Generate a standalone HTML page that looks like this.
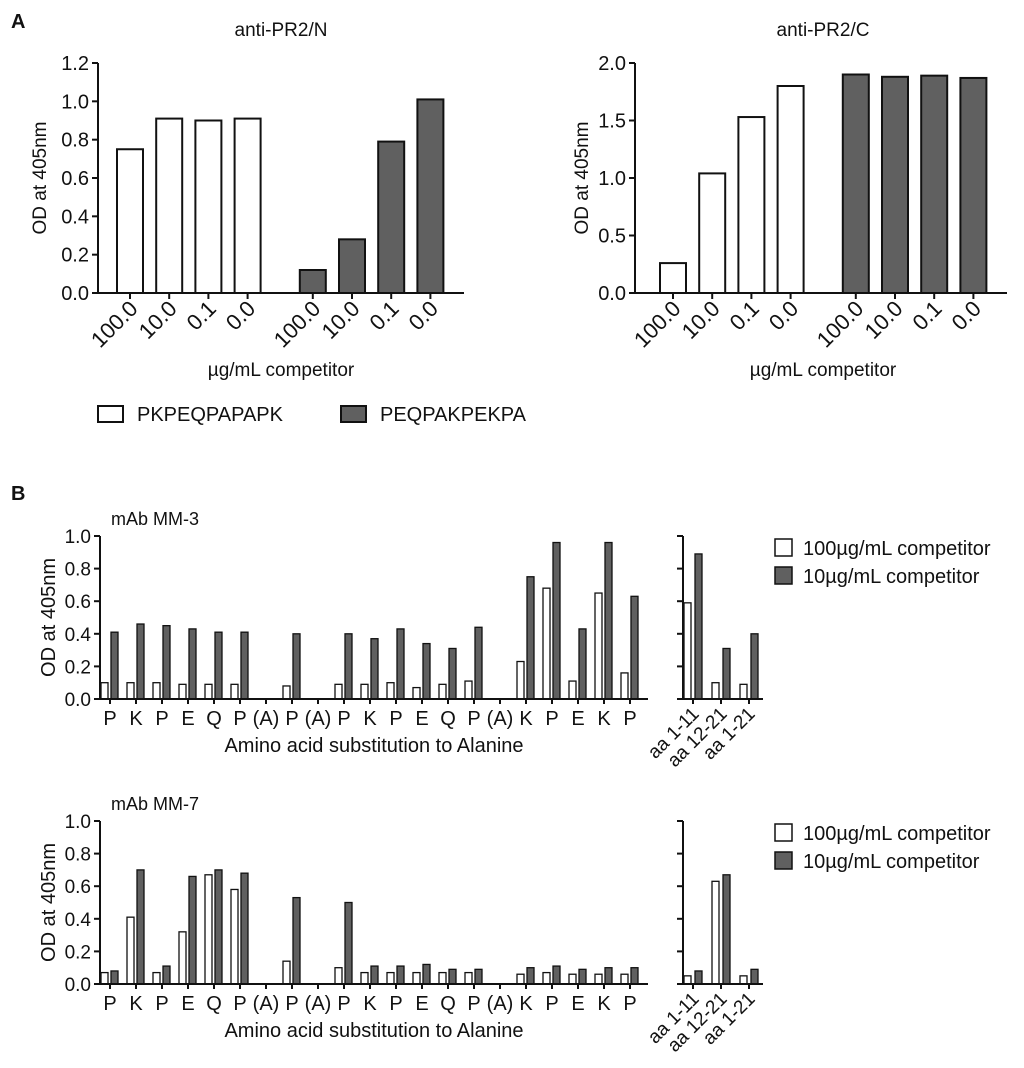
<!DOCTYPE html>
<html><head><meta charset="utf-8">
<style>
html,body{margin:0;padding:0;background:#fff;}
svg{display:block;font-family:"Liberation Sans",Arial,sans-serif;}
text{fill:#111;}
</style></head>
<body>
<svg id="fig" width="1024" height="1068" viewBox="0 0 1024 1068" xmlns="http://www.w3.org/2000/svg">
<text x="11" y="28" font-size="20" font-weight="bold">A</text>
<text x="11" y="500" font-size="20" font-weight="bold">B</text>
<g id="root"></g>
</svg>
<script>
// Panel A data
const aCats = ["100.0","10.0","0.1","0.0"];
const aNWhite = [0.75,0.91,0.90,0.91];
const aNDark = [0.12,0.28,0.79,1.01];
const aNTicks = [0.0,0.2,0.4,0.6,0.8,1.0,1.2];
const aCWhite = [0.26,1.04,1.53,1.80];
const aCDark = [1.90,1.88,1.89,1.87];
const aCTicks = [0.0,0.5,1.0,1.5,2.0];
// Panel B data
const bCats = ["P","K","P","E","Q","P","(A)","P","(A)","P","K","P","E","Q","P","(A)","K","P","E","K","P"];
const mm3White = [0.10,0.10,0.10,0.09,0.09,0.09,null,0.08,null,0.09,0.09,0.10,0.07,0.09,0.11,null,0.23,0.68,0.11,0.65,0.16];
const mm3Dark = [0.41,0.46,0.45,0.43,0.41,0.41,null,0.40,null,0.40,0.37,0.43,0.34,0.31,0.44,null,0.75,0.96,0.43,0.96,0.63];
const mm7White = [0.07,0.41,0.07,0.32,0.67,0.58,null,0.14,null,0.10,0.07,0.07,0.07,0.07,0.07,null,0.06,0.07,0.06,0.06,0.06];
const mm7Dark = [0.08,0.70,0.11,0.66,0.70,0.68,null,0.53,null,0.50,0.11,0.11,0.12,0.09,0.09,null,0.10,0.11,0.09,0.10,0.10];
const segCats = ["aa 1-11","aa 12-21","aa 1-21"];
const mm3SegWhite = [0.59,0.10,0.09];
const mm3SegDark = [0.89,0.31,0.40];
const mm7SegWhite = [0.05,0.63,0.05];
const mm7SegDark = [0.08,0.67,0.09];
const bTicks = [0.0,0.2,0.4,0.6,0.8,1.0];

const NS="http://www.w3.org/2000/svg";
const root=document.getElementById('root');
function mk(tag,attrs,parent,txt){
  const e=document.createElementNS(NS,tag);
  for(const k in attrs) e.setAttribute(k,attrs[k]);
  if(txt!==undefined) e.textContent=txt;
  (parent||root).appendChild(e);
  return e;
}
function line(x1,y1,x2,y2,name,w){
  const l=mk('line',{x1,y1,x2,y2,stroke:'#111','stroke-width':w||2});
  
  
  return l;
}
function yScale(y0,y1,vmax){return v=>y0-(v/vmax)*(y0-y1);}

// ---- Panel A chart ----
function panelA(o){
  const g=mk('g',{});
  
  
  const ys=yScale(o.y0,o.y1,o.vmax);
  const t=mk('text',{x:o.titleX,y:36,'font-size':19,'text-anchor':'middle'},g,o.title);
  
  
  line(o.ax,o.y0+1,o.ax,o.y1,'y-axis');
  line(o.ax-1,o.y0,o.xEnd,o.y0,'x-axis');
  o.ticks.forEach(v=>{
    const y=ys(v);
    line(o.ax-6,y,o.ax,y,'y-tick');
    const tl=mk('text',{x:o.ax-9,y:y+7,'font-size':20,'text-anchor':'end'},g,v.toFixed(1));
    
    
  });
  const series=[o.white,o.dark];
  series.forEach((vals,s)=>{
    vals.forEach((v,i)=>{
      const cx=o.x0+(s*aCats.length+i)*o.step+(s?o.gap:0);
      const r=mk('rect',{x:cx-13,y:ys(v),width:26,height:o.y0-ys(v),fill:s?'#606060':'#fff',stroke:'#111','stroke-width':2},g);
      
      
      line(cx,o.y0,cx,o.y0+6,'x-tick');
      const tl=mk('text',{x:0,y:0,'font-size':22,'text-anchor':'end',transform:`translate(${cx+9},${o.y0+17}) rotate(-45)`},g,aCats[i]);
      
      
    });
  });
  const yt=mk('text',{x:0,y:0,'font-size':19,'text-anchor':'middle',transform:`translate(${o.ylabX},${(o.y0+o.y1)/2}) rotate(-90)`},g,'OD at 405nm');
  
  
  const xt=mk('text',{x:o.titleX,y:376,'font-size':19,'text-anchor':'middle'},g,'\u00b5g/mL competitor');
  
  
}
panelA({name:'chart-anti-pr2-n',title:'anti-PR2/N',titleX:281,ax:98,xEnd:464,y0:293,y1:63,vmax:1.2,ticks:aNTicks,white:aNWhite,dark:aNDark,x0:130,step:39.2,gap:26,ylabX:46});
panelA({name:'chart-anti-pr2-c',title:'anti-PR2/C',titleX:823,ax:635,xEnd:1007,y0:293,y1:63,vmax:2.0,ticks:aCTicks,white:aCWhite,dark:aCDark,x0:673,step:39.2,gap:26,ylabX:588});

// Legend A
[[98,'#fff','PKPEQPAPAPK','legend-entry-pkpeqpapapk'],[341,'#606060','PEQPAKPEKPA','legend-entry-peqpakpekpa']].forEach(d=>{
  const g=mk('g',{});
  
  
  mk('rect',{x:d[0],y:406,width:25,height:16,fill:d[1],stroke:'#111','stroke-width':2},g);
  mk('text',{x:d[0]+39,y:421,'font-size':20},g,d[2]);
});

// ---- Panel B charts ----
function panelB(o){
  const g=mk('g',{});
  
  
  const ys=yScale(o.y0,o.y1,1.0);
  const t=mk('text',{x:111,y:o.y1-11,'font-size':18},g,o.title);
  
  
  line(100,o.y0+1,100,o.y1,'y-axis');
  line(99,o.y0,648,o.y0,'x-axis');
  bTicks.forEach(v=>{
    const y=ys(v);
    line(94,y,100,y,'y-tick');
    const tl=mk('text',{x:91,y:y+7,'font-size':19,'text-anchor':'end'},g,v.toFixed(1));
    
    
    line(677,y,683,y,'seg-y-tick');
  });
  bCats.forEach((c,i)=>{
    const cx=110+i*26;
    line(cx,o.y0,cx,o.y0+5,'x-tick');
    const tl=mk('text',{x:cx,y:o.y0+26,'font-size':20,'text-anchor':'middle'},g,c);
    
    
    if(o.white[i]!==null){
      const r=mk('rect',{x:cx-9,y:ys(o.white[i]),width:7,height:o.y0-ys(o.white[i]),fill:'#fff',stroke:'#111','stroke-width':1.3},g);
      
      
    }
    if(o.dark[i]!==null){
      const r=mk('rect',{x:cx+1,y:ys(o.dark[i]),width:7,height:o.y0-ys(o.dark[i]),fill:'#606060',stroke:'#111','stroke-width':1.3},g);
      
      
    }
  });
  const xt=mk('text',{x:374,y:o.y0+53,'font-size':20,'text-anchor':'middle'},g,'Amino acid substitution to Alanine');
  
  
  const yt=mk('text',{x:0,y:0,'font-size':20,'text-anchor':'middle',transform:`translate(55,${(o.y0+o.y1)/2}) rotate(-90)`},g,'OD at 405nm');
  
  
  line(683,o.y0+1,683,o.y1,'seg-y-axis');
  line(682,o.y0,763,o.y0,'seg-x-axis');
  segCats.forEach((c,i)=>{
    const cx=693+i*28;
    line(cx,o.y0,cx,o.y0+5,'seg-x-tick');
    const tl=mk('text',{x:0,y:0,'font-size':19,'text-anchor':'end',transform:`translate(${cx+7},${o.y0+16}) rotate(-45)`},g,c);
    
    
    const r1=mk('rect',{x:cx-9,y:ys(o.segWhite[i]),width:7,height:o.y0-ys(o.segWhite[i]),fill:'#fff',stroke:'#111','stroke-width':1.3},g);
    
    
    const r2=mk('rect',{x:cx+2,y:ys(o.segDark[i]),width:7,height:o.y0-ys(o.segDark[i]),fill:'#606060',stroke:'#111','stroke-width':1.3},g);
    
    
  });
  [['#fff','100\u00b5g/mL competitor','legend-entry-100'],['#606060','10\u00b5g/mL competitor','legend-entry-10']].forEach((d,k)=>{
    const lg=mk('g',{},g);
    
    
    mk('rect',{x:775,y:o.y1+3+k*28,width:17,height:17,fill:d[0],stroke:'#111','stroke-width':1.5},lg);
    mk('text',{x:803,y:o.y1+19+k*28,'font-size':20},lg,d[1]);
  });
}
panelB({name:'chart-mab-mm3',title:'mAb MM-3',y0:699,y1:536,white:mm3White,dark:mm3Dark,segWhite:mm3SegWhite,segDark:mm3SegDark});
panelB({name:'chart-mab-mm7',title:'mAb MM-7',y0:984,y1:821,white:mm7White,dark:mm7Dark,segWhite:mm7SegWhite,segDark:mm7SegDark});
</script>
</body></html>
